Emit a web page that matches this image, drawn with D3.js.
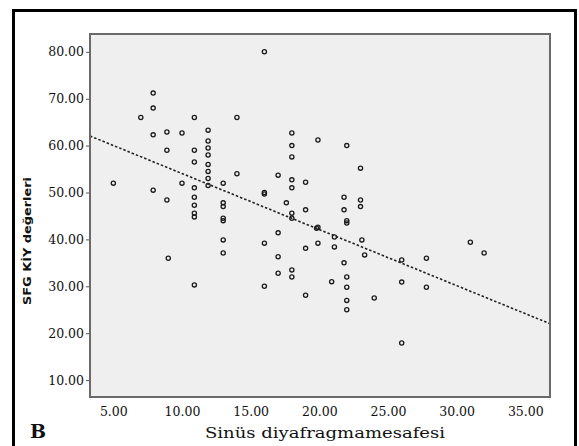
<!DOCTYPE html>
<html>
<head>
<meta charset="utf-8">
<script src="https://cdn.jsdelivr.net/npm/d3@7/dist/d3.min.js"></script>
<style>
  html, body { margin: 0; padding: 0; background: #fff; }
  svg { display: block; }
</style>
</head>
<body>
<svg id="chart" width="579" height="446"></svg>
<script>
// ---- data ----
const xValues = [5, 7, 7.9, 7.9, 7.9, 7.9, 8.9, 8.9, 8.9, 9, 10, 10,
  10.9, 10.9, 10.9, 10.9, 10.9, 10.9, 10.9, 10.9, 10.9,
  11.9, 11.9, 11.9, 11.9, 11.9, 11.9, 11.9, 11.9,
  13, 13, 13, 13, 13, 13, 13, 14, 14,
  16, 16, 16, 16, 16, 17, 17, 17, 17, 17.6,
  18, 18, 18, 18, 18, 18, 18, 18, 18,
  19, 19, 19, 19, 19.9, 19.9, 19.8, 19.9,
  21.1, 21.1, 20.9,
  22, 21.8, 21.8, 22, 22, 21.8, 22, 22, 22, 22,
  23, 23, 23, 23.1, 23.3, 24, 26, 26, 26, 27.8, 27.8, 31, 32];
const yValues = [52, 66, 71.2, 68, 62.3, 50.5, 62.9, 59, 48.4, 36, 62.7, 52,
  66, 59, 56.5, 51, 49, 47.3, 45.6, 44.8, 30.3,
  63.3, 61, 59.5, 58, 56, 54.5, 53, 51.5,
  52, 47.8, 47, 44.5, 44, 39.9, 37.1, 66, 54,
  80, 50, 49.7, 39.2, 30, 53.7, 41.4, 36.3, 32.8, 47.8,
  62.7, 60, 57.6, 52.7, 51, 45.6, 44.5, 33.5, 32,
  52.2, 46.3, 38.1, 28.1, 61.2, 42.6, 42.4, 39.2,
  40.5, 38.4, 31,
  60, 49, 46.3, 44, 43.5, 35, 32, 29.8, 27, 25,
  55.2, 48.4, 47, 39.9, 36.7, 27.5, 35.6, 30.9, 17.9, 36, 29.8, 39.4, 37.1];
const xTicks = [5, 10, 15, 20, 25, 30, 35];
const yTicks = [10, 20, 30, 40, 50, 60, 70, 80];
const fitIntercept = 66;
const fitSlope = -1.195;
const xLabel = "Sinüs diyafragmamesafesi";
const yLabel = "SFG KİY değerleri";
const panelLabel = "B";

// ---- layout ----
const svg = d3.select("#chart");
const L = 90, R = 550, T = 34, B = 397;

svg.append("rect").attr("x", 0).attr("y", 0).attr("width", 579).attr("height", 446).attr("fill", "#fff");
// outer frame
svg.append("rect").attr("x", 13.5).attr("y", 10.5).attr("width", 562).attr("height", 450)
  .attr("fill", "none").attr("stroke", "#000").attr("stroke-width", 3);

const x = d3.scaleLinear().domain([3.3, 36.8]).range([L, R]);
const y = d3.scaleLinear().domain([6.4, 83.8]).range([B, T]);

// plot background
svg.append("rect").attr("x", L).attr("y", T).attr("width", R - L).attr("height", B - T)
  .attr("fill", "#efefef");

// axes
const yAxis = d3.axisLeft(y).tickValues(yTicks).tickFormat(d3.format(".2f")).tickSize(4).tickPadding(2);
const gy = svg.append("g").attr("transform", `translate(${L},0)`).call(yAxis);
gy.select(".domain").remove();
gy.selectAll("line").attr("stroke", "#555");
gy.selectAll("text").attr("font-family", "DejaVu Serif").attr("font-size", 12.5).attr("fill", "#111");

const xAxis = d3.axisBottom(x).tickValues(xTicks).tickFormat(d3.format(".2f")).tickSize(0).tickPadding(10);
const gx = svg.append("g").attr("transform", `translate(0,${B})`).call(xAxis);
gx.select(".domain").remove();
gx.selectAll("text").attr("font-family", "DejaVu Serif").attr("font-size", 12.5).attr("fill", "#111");

// points
const pts = xValues.map((v, i) => [v, yValues[i]]);
svg.append("g").selectAll("circle").data(pts).join("circle")
  .attr("cx", d => x(d[0])).attr("cy", d => y(d[1])).attr("r", 2.1)
  .attr("fill", "none").attr("stroke", "#1a1a1a").attr("stroke-width", 1.3);

// fit line
const xd = x.domain();
svg.append("line")
  .attr("x1", x(xd[0])).attr("y1", y(fitIntercept + fitSlope * xd[0]))
  .attr("x2", x(xd[1])).attr("y2", y(fitIntercept + fitSlope * xd[1]))
  .attr("stroke", "#222").attr("stroke-width", 1.6).attr("stroke-dasharray", "2.5,2");

// plot border
svg.append("rect").attr("x", L).attr("y", T).attr("width", R - L).attr("height", B - T)
  .attr("fill", "none").attr("stroke", "#6a6a6a").attr("stroke-width", 2);

// labels
svg.append("text").attr("x", (L + R) / 2 + 5).attr("y", 438).attr("text-anchor", "middle")
  .attr("font-family", "DejaVu Serif").attr("font-size", 15.5).attr("fill", "#111")
  .attr("textLength", 240).attr("lengthAdjust", "spacingAndGlyphs").text(xLabel);

svg.append("text").attr("transform", "translate(31,241) rotate(-90)").attr("text-anchor", "middle")
  .attr("font-family", "DejaVu Sans").attr("font-weight", "bold").attr("font-size", 11).attr("fill", "#111")
  .attr("textLength", 128).attr("lengthAdjust", "spacingAndGlyphs").text(yLabel);

svg.append("text").attr("x", 30).attr("y", 438)
  .attr("font-family", "DejaVu Serif").attr("font-weight", "bold").attr("font-size", 19).attr("fill", "#111")
  .text(panelLabel);
</script>
</body>
</html>
